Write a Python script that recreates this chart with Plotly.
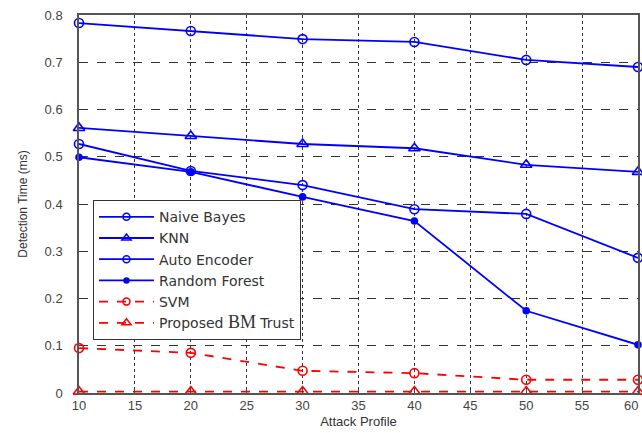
import plotly.graph_objects as go

attack_profile = [10, 20, 30, 40, 50, 60]
naive_bayes = [0.783, 0.766, 0.749, 0.743, 0.705, 0.690]
knn = [0.561, 0.544, 0.527, 0.518, 0.483, 0.468]
auto_encoder = [0.527, 0.470, 0.440, 0.389, 0.379, 0.286]
random_forest = [0.499, 0.468, 0.415, 0.364, 0.174, 0.102]
svm = [0.095, 0.085, 0.047, 0.042, 0.028, 0.028]
proposed = [0.003, 0.003, 0.003, 0.003, 0.003, 0.003]

x_ticks = [10, 15, 20, 25, 30, 35, 40, 45, 50, 55, 60]
y_ticks = [0, 0.1, 0.2, 0.3, 0.4, 0.5, 0.6, 0.7, 0.8]
y_labels = ["0", "0.1", "0.2", "0.3", "0.4", "0.5", "0.6", "0.7", "0.8"]

BLUE = "#0000ff"
RED = "#ff0000"

series = [
    ("Naive Bayes", naive_bayes, BLUE, "solid", "circle-open", 9, 7),
    ("KNN", knn, BLUE, "solid", "triangle-up-open", 10, 8),
    ("Auto Encoder", auto_encoder, BLUE, "solid", "circle-open", 9, 7),
    ("Random Forest", random_forest, BLUE, "solid", "circle", 6, 5),
    ("SVM", svm, RED, "dash", "circle-open", 9, 7),
    ("Proposed <span style='font-family:Liberation Serif;font-size:18px'>BM</span> Trust",
     proposed, RED, "dash", "triangle-up-open", 10, 8),
]

fig = go.Figure()
for name, vals, col, dash, sym, sz, lsz in series:
    fig.add_trace(go.Scatter(
        x=attack_profile, y=vals, name=name, mode="lines+markers",
        line=dict(color=col, width=1.8, dash=dash),
        marker=dict(symbol=sym, size=sz, color=col, line=dict(color=col, width=1.6)),
        cliponaxis=False, showlegend=False, legendgroup=name,
    ))
for name, vals, col, dash, sym, sz, lsz in series:
    # legend-only entry with the smaller legend glyph
    fig.add_trace(go.Scatter(
        x=[None], y=[None], name=name, mode="lines+markers",
        line=dict(color=col, width=1.8, dash=dash),
        marker=dict(symbol=sym, size=lsz, color=col, line=dict(color=col, width=1.5)),
        showlegend=True, legendgroup=name,
    ))

fig.add_annotation(
    x=60, y=0, xref="x", yref="y", text="60", showarrow=False,
    xanchor="right", yanchor="top", yshift=-3, xshift=2,
    font=dict(size=13, color="#444444"),
)

fig.update_layout(
    width=642, height=433,
    margin=dict(l=79, r=2, t=15, b=40),
    plot_bgcolor="white", paper_bgcolor="white",
    font=dict(family="Liberation Sans, Arial, sans-serif", size=12, color="#333333"),
    showlegend=True,
    legend=dict(
        x=0.025, y=0.51, xanchor="left", yanchor="top",
        bgcolor="white", bordercolor="#333333", borderwidth=1,
        font=dict(family="DejaVu Sans", size=14, color="#333333"),
        tracegroupgap=0, itemwidth=55,
    ),
)
fig.update_xaxes(
    range=[10, 60], tickvals=x_ticks[:-1], ticks="inside", ticklen=4,
    showline=True, linecolor="#555555", linewidth=1.5, mirror=True,
    showgrid=True, gridcolor="#333333", griddash="dot", gridwidth=1,
    zeroline=False,
    title=dict(text="Attack Profile", standoff=5, font=dict(size=13)),
    tickfont=dict(size=13, color="#444444"),
)
fig.update_yaxes(
    range=[0, 0.8], tickvals=y_ticks, ticktext=y_labels,
    ticks="outside", ticklen=12, tickcolor="rgba(0,0,0,0)",
    showline=True, linecolor="#555555", linewidth=1.5, mirror=True,
    showgrid=True, gridcolor="#333333", griddash="dash", gridwidth=1,
    zeroline=False,
    title=dict(text="Detection Time (ms)", standoff=14, font=dict(size=12)),
    tickfont=dict(size=13, color="#444444"),
)

fig.write_html("out.html")
